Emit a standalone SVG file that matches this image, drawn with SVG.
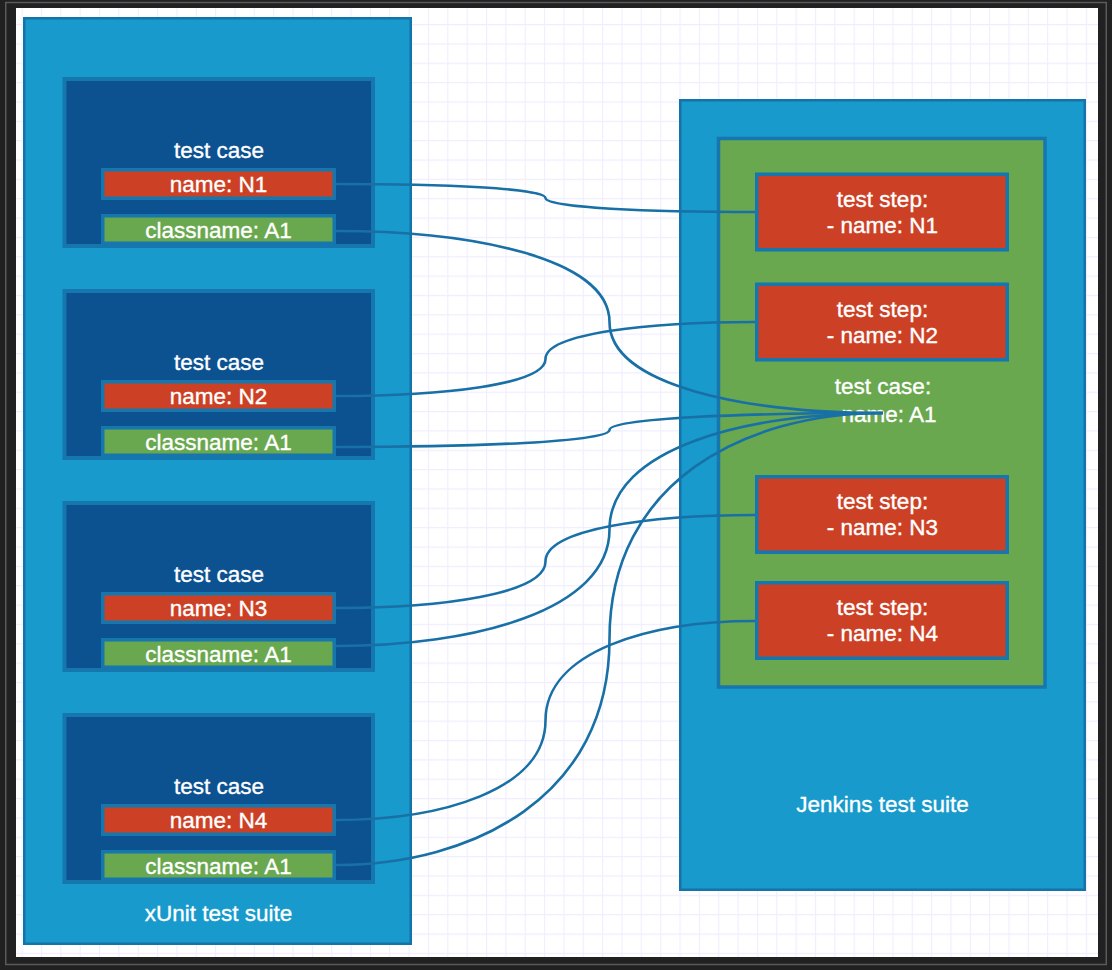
<svg xmlns="http://www.w3.org/2000/svg" width="1112" height="970" viewBox="0 0 1112 970">
  <style>
    .suite { fill: #189ACC; stroke: #1473A8; stroke-width: 2.5; }
    .tcase { fill: #0C5190; stroke: #1677AE; stroke-width: 4; }
    .bar-red { fill: #CC4125; stroke: #1677AE; stroke-width: 3.5; }
    .bar-green { fill: #6AA84F; stroke: #1677AE; stroke-width: 3.5; }
    .t { font-family: "Liberation Sans", Arial, sans-serif; font-size: 22.5px; fill: #ffffff; stroke: #ffffff; stroke-width: 0.35; text-anchor: middle; }
    .conn { fill: none; stroke: #1870A6; stroke-width: 2.6; }
  </style>
  <defs>
    <pattern id="grid" patternUnits="userSpaceOnUse" x="2.25" y="4.65" width="19.35" height="19.35">
      <path d="M 19.35 0.5 L 0.5 0.5 0.5 19.35" fill="none" stroke="#F0EDFF" stroke-width="1.2"/>
    </pattern>
  </defs>

  <!-- frame -->
  <rect x="0" y="0" width="1112" height="970" fill="#212121"/>
  <rect x="5.75" y="2.5" width="1100.5" height="962" fill="none" stroke="#5a5a5a" stroke-width="1.5"/>
  <rect x="16" y="8" width="1082" height="949" fill="#ffffff"/>
  <rect x="16" y="8" width="1082" height="949" fill="url(#grid)"/>

  <!-- xUnit suite -->
  <g id="xunit-suite">
    <rect class="suite" x="24.25" y="18.25" width="386.5" height="925.5"/>
    <text class="t" x="218.5" y="921">xUnit test suite</text>
  </g>

  <g id="testcase-1">
    <rect class="tcase" x="64.5" y="79" width="308.5" height="167"/>
    <text class="t" x="219" y="157.7">test case</text>
    <rect class="bar-red" x="102.75" y="169.75" width="231.5" height="28.5"/>
    <text class="t" x="218.5" y="192">name: N1</text>
    <rect class="bar-green" x="102.75" y="215.75" width="231.5" height="27.5"/>
    <text class="t" x="218.5" y="237.5">classname: A1</text>
  </g>

  <g id="testcase-2">
    <rect class="tcase" x="64.5" y="291" width="308.5" height="167"/>
    <text class="t" x="219" y="369.7">test case</text>
    <rect class="bar-red" x="102.75" y="381.75" width="231.5" height="28.5"/>
    <text class="t" x="218.5" y="404">name: N2</text>
    <rect class="bar-green" x="102.75" y="427.75" width="231.5" height="27.5"/>
    <text class="t" x="218.5" y="449.5">classname: A1</text>
  </g>

  <g id="testcase-3">
    <rect class="tcase" x="64.5" y="503" width="308.5" height="167"/>
    <text class="t" x="219" y="581.7">test case</text>
    <rect class="bar-red" x="102.75" y="593.75" width="231.5" height="28.5"/>
    <text class="t" x="218.5" y="616">name: N3</text>
    <rect class="bar-green" x="102.75" y="639.75" width="231.5" height="27.5"/>
    <text class="t" x="218.5" y="661.5">classname: A1</text>
  </g>

  <g id="testcase-4">
    <rect class="tcase" x="64.5" y="715" width="308.5" height="167"/>
    <text class="t" x="219" y="793.7">test case</text>
    <rect class="bar-red" x="102.75" y="805.75" width="231.5" height="28.5"/>
    <text class="t" x="218.5" y="828">name: N4</text>
    <rect class="bar-green" x="102.75" y="851.75" width="231.5" height="27.5"/>
    <text class="t" x="218.5" y="873.5">classname: A1</text>
  </g>

  <!-- Jenkins suite -->
  <g id="jenkins-suite">
    <rect class="suite" x="680.25" y="100.25" width="404.5" height="789.5"/>
    <text class="t" x="882.5" y="812">Jenkins test suite</text>
  </g>

  <g id="jenkins-testcase">
    <rect class="bar-green" x="718.5" y="138.5" width="326.5" height="548.5"/>
    <text class="t" x="883" y="394.3">test case:</text>
    <text class="t" x="889" y="422">name: A1</text>
  </g>

  <g id="step-1">
    <rect class="bar-red" x="756.75" y="174.25" width="250.5" height="75.5"/>
    <text class="t" x="882.5" y="206.5">test step:</text>
    <text class="t" x="882.5" y="232.5">- name: N1</text>
  </g>
  <g id="step-2">
    <rect class="bar-red" x="756.75" y="284.25" width="250.5" height="75.5"/>
    <text class="t" x="882.5" y="316.5">test step:</text>
    <text class="t" x="882.5" y="342.5">- name: N2</text>
  </g>
  <g id="step-3">
    <rect class="bar-red" x="756.75" y="476.75" width="250.5" height="75.5"/>
    <text class="t" x="882.5" y="509">test step:</text>
    <text class="t" x="882.5" y="535">- name: N3</text>
  </g>
  <g id="step-4">
    <rect class="bar-red" x="756.75" y="582.75" width="250.5" height="75.5"/>
    <text class="t" x="882.5" y="615">test step:</text>
    <text class="t" x="882.5" y="641">- name: N4</text>
  </g>

  <!-- connectors -->
  <g id="connectors">
    <path class="conn" d="M336,184 C440.75,184 545.5,188.2 545.5,198 C545.5,207.8 650.25,212 755,212"/>
    <path class="conn" d="M336,231 C472.75,231 609.5,258.3 609.5,322 C609.5,385.7 746.25,413 883,413"/>
    <path class="conn" d="M336,396 C440.75,396 545.5,384.9 545.5,359 C545.5,333.1 650.25,322 755,322"/>
    <path class="conn" d="M336,447 C472.75,447 609.5,441.9 609.5,430 C609.5,418.1 746.25,413 883,413"/>
    <path class="conn" d="M336,608 C440.75,608 545.5,594.05 545.5,561.5 C545.5,528.95 650.25,515 755,515"/>
    <path class="conn" d="M336,646 C472.75,646 609.5,611.05 609.5,529.5 C609.5,447.95 746.25,413 883,413"/>
    <path class="conn" d="M336,820 C440.75,820 545.5,790.15 545.5,720.5 C545.5,650.85 650.25,621 755,621"/>
    <path class="conn" d="M336,865 C472.75,865 609.5,797.2 609.5,639 C609.5,480.8 746.25,413 883,413"/>
  </g>
</svg>
